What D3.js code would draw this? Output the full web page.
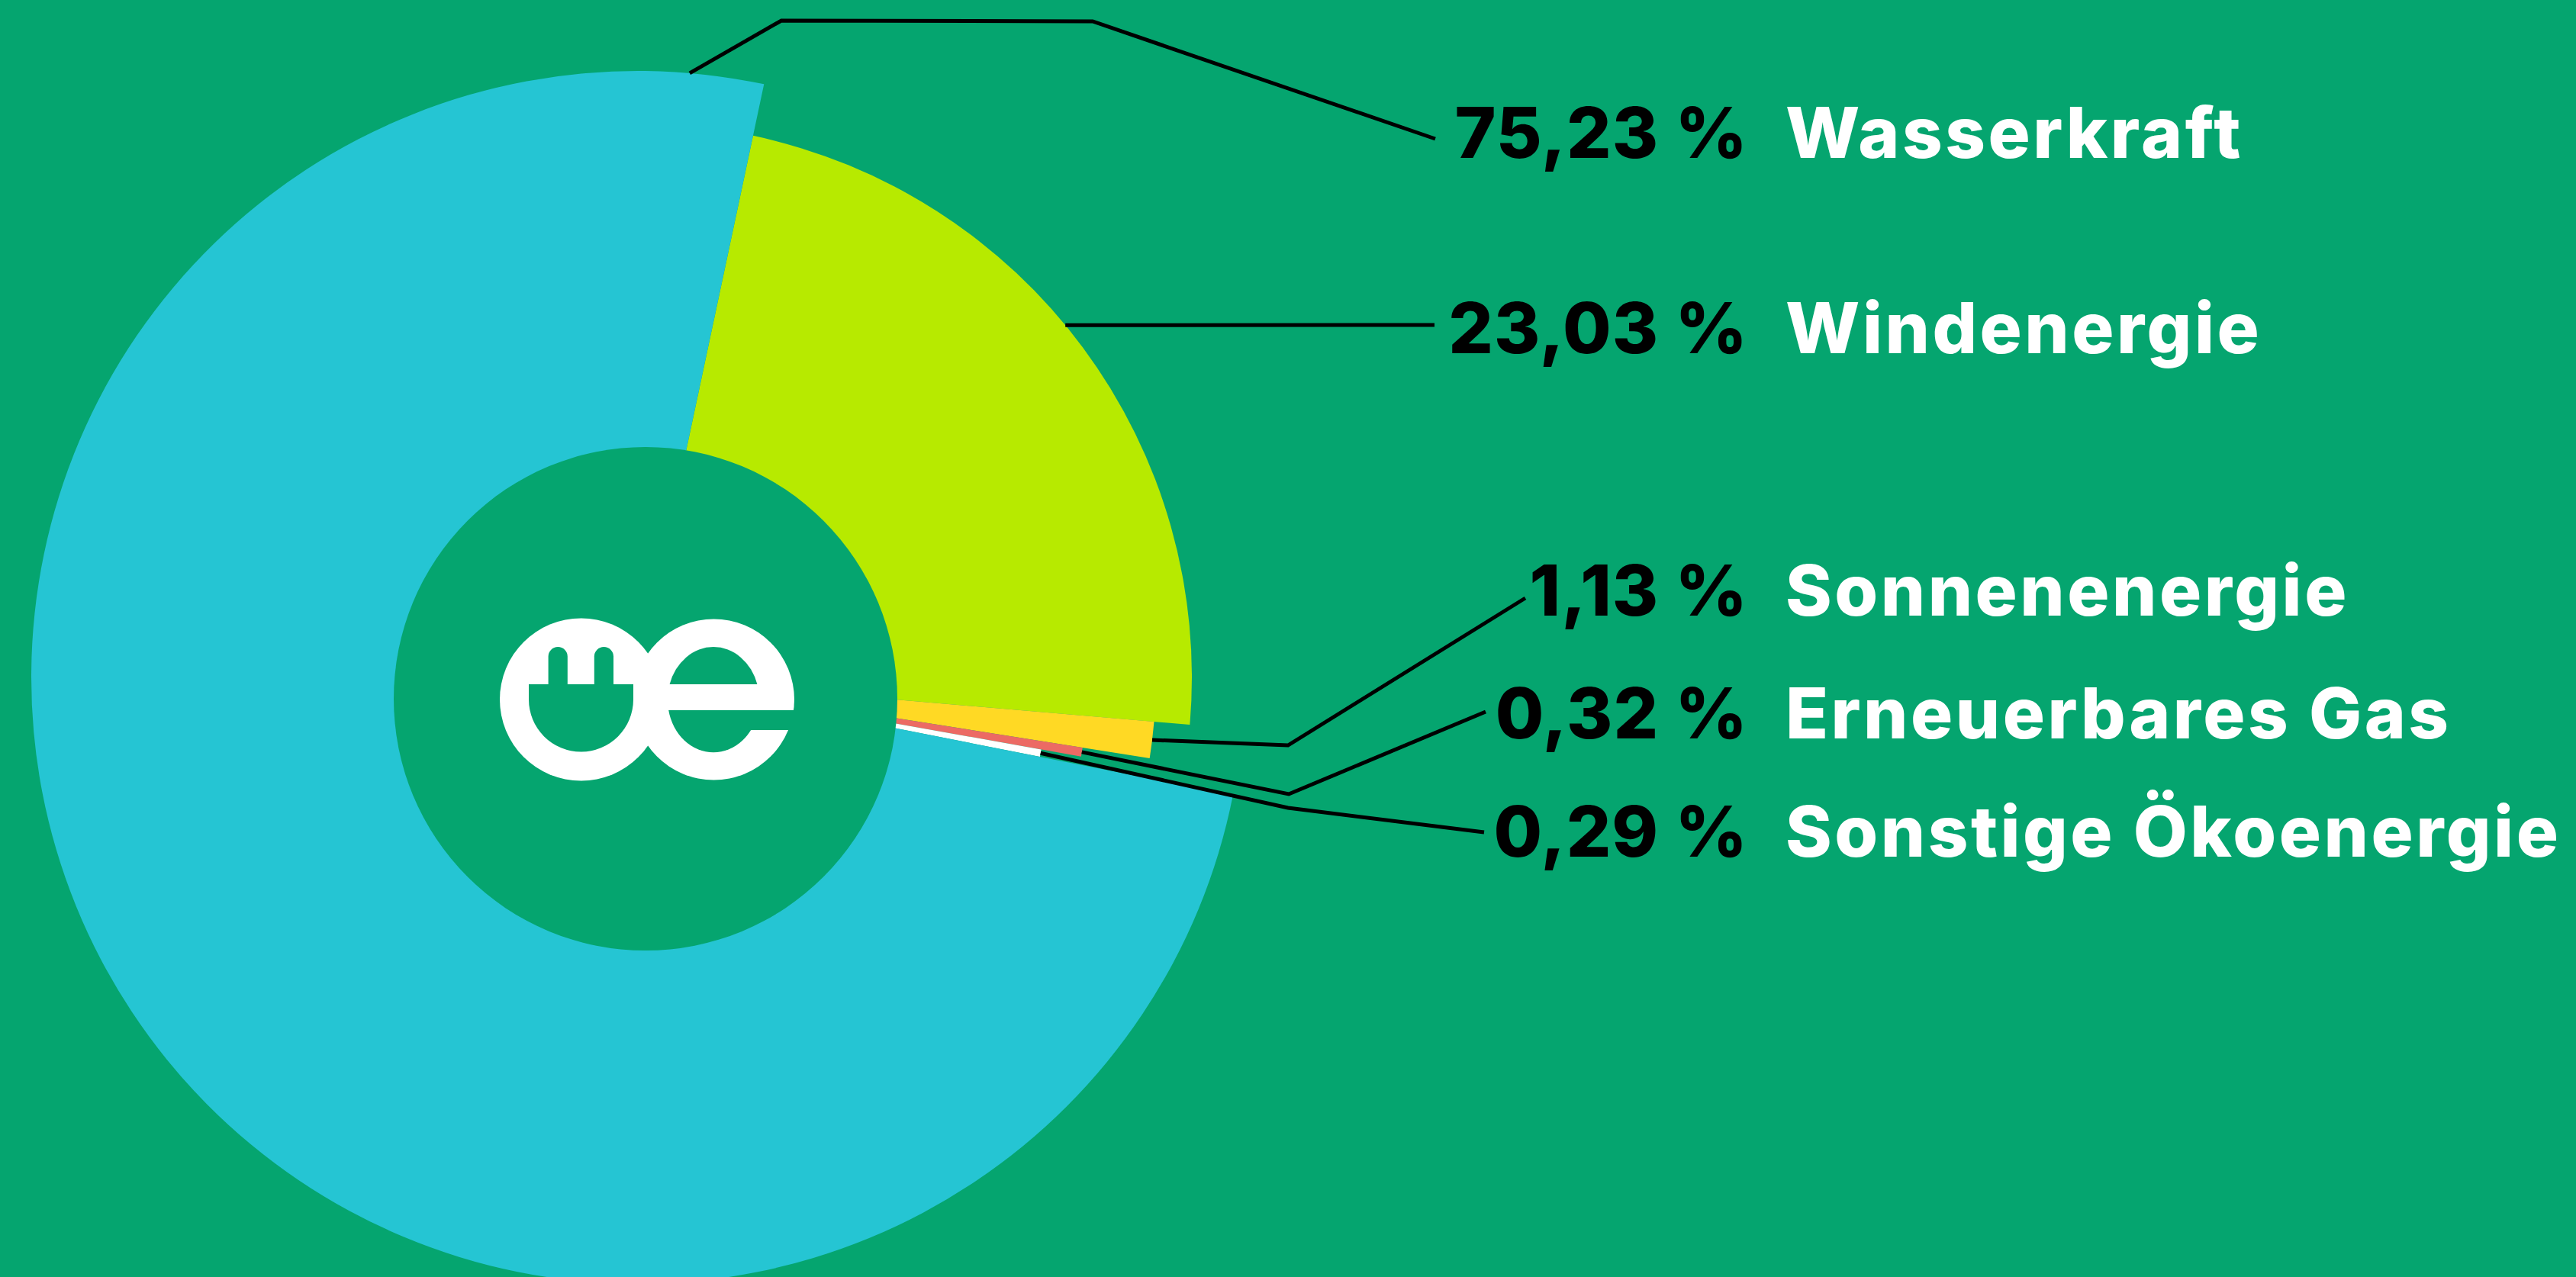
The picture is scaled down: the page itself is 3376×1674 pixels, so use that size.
<!DOCTYPE html>
<html>
<head>
<meta charset="utf-8">
<script src="https://cdn.jsdelivr.net/npm/d3@7"></script>
<style>
  html, body { margin: 0; padding: 0; background: #05a56f; overflow: hidden; }
</style>
</head>
<body>
<div id="chart"></div>
<script>
// --- data (pie order, clockwise from the top) ---
const categories = ["Windenergie", "Sonnenenergie", "Erneuerbares Gas", "Sonstige Ökoenergie", "Wasserkraft"];
const shares = [23.03, 1.13, 0.32, 0.29, 75.23];
// label rows, top to bottom
const labelOrder = ["Wasserkraft", "Windenergie", "Sonnenenergie", "Erneuerbares Gas", "Sonstige Ökoenergie"];

// --- styling ---
const W = 3376, H = 1674;
const BG = "#05a56f";
const colors = {
  "Wasserkraft": "#25c5d3",
  "Windenergie": "#b7ea00",
  "Sonnenenergie": "#ffd924",
  "Erneuerbares Gas": "#ec6a64",
  "Sonstige Ökoenergie": "#ffffff"
};
// each slice has its own outer radius
const outerR = {
  "Wasserkraft": 795,
  "Windenergie": 726,
  "Sonnenenergie": 679,
  "Erneuerbares Gas": 590,
  "Sonstige Ökoenergie": 537
};
const pieCenter = [836, 888];
const hole = { x: 846, y: 916, r: 330 };
const startDeg = 12;

// label rows + leader line elbows
const rowBaseline = [207, 463, 807, 968, 1123];
const numberRight = 2291, nameLeft = 2340;
const leaderPts = {
  "Wasserkraft": [[1024, 27], [1432, 28], [1881, 182]],
  "Windenergie": [[1880, 426]],
  "Sonnenenergie": [[1688, 977], [1999, 784]],
  "Erneuerbares Gas": [[1689, 1041], [1947, 933]],
  "Sonstige Ökoenergie": [[1688, 1059], [1945, 1091]]
};
// where on the outer arc the leader starts (deg, clockwise from top); otherwise mid angle
const leaderAngle = { "Wasserkraft": 4.9, "Windenergie": 50.5 };

const data = categories.map((name, i) => ({ name, share: shares[i] }));

const de = d3.formatLocale({ decimal: ",", thousands: ".", grouping: [3], currency: ["", " €"] });
const fmt = v => de.format(".2f")(v) + " %";

const svg = d3.select("#chart").append("svg")
  .attr("width", W).attr("height", H)
  .attr("viewBox", [0, 0, W, H])
  .style("display", "block")
  .style("background", BG);

const rad = d => d * Math.PI / 180;
const pie = d3.pie().sort(null).value(d => d.share)
  .startAngle(rad(startDeg)).endAngle(rad(startDeg) + 2 * Math.PI);
const arcs = pie(data);

const arc = d3.arc().innerRadius(0).outerRadius(d => outerR[d.data.name]);

const g = svg.append("g").attr("transform", `translate(${pieCenter})`);
g.selectAll("path.slice")
  .data(arcs)
  .join("path")
    .attr("class", "slice")
    .attr("d", arc)
    .attr("fill", d => colors[d.data.name]);

// donut hole (sits a little lower than the pie centre)
svg.append("circle")
  .attr("cx", hole.x).attr("cy", hole.y).attr("r", hole.r)
  .attr("fill", BG);

// leader lines
const line = d3.line();
const anchorOf = d => {
  const r = outerR[d.data.name];
  const a = leaderAngle[d.data.name] != null
    ? rad(leaderAngle[d.data.name])
    : (d.startAngle + d.endAngle) / 2;
  return [pieCenter[0] + r * Math.sin(a), pieCenter[1] - r * Math.cos(a)];
};
svg.append("g")
  .selectAll("path")
  .data(arcs)
  .join("path")
    .attr("d", d => line([anchorOf(d), ...leaderPts[d.data.name]]))
    .attr("fill", "none")
    .attr("stroke", "#000")
    .attr("stroke-width", 5)
    .attr("stroke-linejoin", "miter");

// labels
const rows = svg.append("g")
  .style("font-family", "Inter, 'Noto Sans', sans-serif")
  .style("font-weight", 800)
  .style("font-size", "92px");

labelOrder.forEach((name, i) => {
  const d = data.find(e => e.name === name);
  rows.append("text")
    .attr("x", numberRight).attr("y", rowBaseline[i])
    .attr("text-anchor", "end")
    .attr("fill", "#000")
    .style("letter-spacing", "1px")
    .text(fmt(d.share));
  rows.append("text")
    .attr("x", nameLeft).attr("y", rowBaseline[i])
    .attr("fill", "#fff")
    .style("letter-spacing", "3.5px")
    .text(name);
});

// logo in the hole
const logo = svg.append("g").attr("transform", `translate(${hole.x},${hole.y})`);
logo.append("circle").attr("cx", -84.5).attr("cy", 1).attr("r", 106.5).attr("fill", "#fff");
logo.append("circle").attr("cx", 89.5).attr("cy", 1).attr("r", 105.5).attr("fill", "#fff");
const cut = [
  "M-153,-19 H-16 V1 A68.5,68.5 0 0 1 -153,1 Z",                 // plug body
  "M-127.4,-19 V-55.4 A12.6,12.6 0 0 1 -102.2,-55.4 V-19 Z",     // prong
  "M-67.2,-19 V-55.4 A12.6,12.6 0 0 1 -42,-55.4 V-19 Z",         // prong
  "M31.6,-19 A60,69 0 0 1 146.4,-19 Z",                          // e upper counter
  "M30.2,15 A60,69 0 0 0 147.8,15 Z",                            // e lower counter
  "M89,15 H200 V41 H89 Z"                                        // e opening
];
logo.selectAll("path")
  .data(cut)
  .join("path")
    .attr("d", d => d)
    .attr("fill", BG);
</script>
</body>
</html>
